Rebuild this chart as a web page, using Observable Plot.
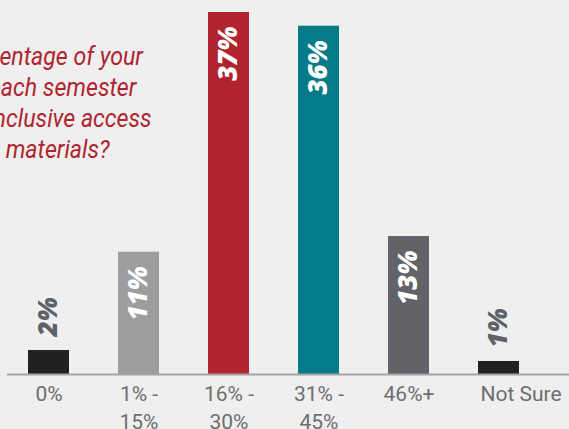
<!DOCTYPE html>
<html><head><meta charset="utf-8">
<script src="https://cdn.jsdelivr.net/npm/d3@7"></script>
<script src="https://cdn.jsdelivr.net/npm/@observablehq/plot@0.6"></script>
<style>
html,body{margin:0;padding:0;background:#eeefee;overflow:hidden;}
#wrap{position:relative;width:569px;height:429px;overflow:hidden;background:#eeefee;}
#wrap svg{position:absolute;left:0;top:0;}
.t{position:absolute;white-space:nowrap;font-family:Roboto;font-style:italic;font-size:26px;color:#b0242f;line-height:31px;transform:scaleX(0.89);transform-origin:right center;}
</style></head><body><div id="wrap"></div>
<script>
const categories = ["0%", "1% - 15%", "16% - 30%", "31% - 45%", "46%+", "Not Sure"];
const heights = [2.45, 12.5, 37, 35.6, 14.1, 1.33];
const labels = ["2%", "11%", "37%", "36%", "13%", "1%"];
const colors = ["#202221", "#9d9d9f", "#b0242f", "#057b87", "#616368", "#202221"];
const titleLines = ["What percentage of your", "textbook costs each semester", "go toward inclusive access", "course materials?"];
const titleRightEdges = [143, 136, 152, 110];
const titleBaselines = [64, 95, 126, 157];

const data = categories.map((c, i) => ({cat: c, h: heights[i], label: labels[i]}));
const inside = data.filter(d => d.h > 5);
const outside = data.filter(d => d.h <= 5);

const W = 569, H = 429;
const textBase = {fontFamily: "Open Sans", fontWeight: 800, fontStyle: "italic", fontSize: 26, rotate: -90, lineAnchor: "middle"};
const axisBase = {tickSize: 0, tickPadding: 7, fontSize: 21, fontFamily: "Roboto", color: "#6d6e71", lineHeight: 1.33, label: null,
  tickFormat: d => d.replace(" - ", " -\n")};

const chart = Plot.plot({
  width: W, height: H,
  marginLeft: 26, marginRight: 49, marginTop: 12, marginBottom: 55,
  style: {background: "transparent", fontFamily: "Roboto", overflow: "visible"},
  x: {domain: categories, paddingInner: 0.547, paddingOuter: 0, axis: null},
  y: {domain: [0, 37], axis: null},
  color: {domain: categories, range: colors},
  marks: [
    Plot.barY(data, {x: "cat", y: "h", fill: "cat"}),
    Plot.ruleY([0], {stroke: "#a4a4a4", strokeWidth: 2, insetLeft: -19, insetRight: -49}),
    Plot.text(inside, {...textBase, x: "cat", y: "h", text: "label", textAnchor: "end", dy: 14, fill: "white"}),
    Plot.text(outside, {...textBase, x: "cat", y: "h", text: "label", textAnchor: "start", dy: -14, fill: "#5f6166"}),
    Plot.axisX({...axisBase, ticks: categories.slice(0, 5)}),
    Plot.axisX({...axisBase, ticks: categories.slice(5), dx: 22})
  ]
});
const wrap = document.getElementById("wrap");
wrap.appendChild(chart);
titleLines.forEach((s, i) => {
  const d = document.createElement("div");
  d.className = "t";
  d.textContent = s;
  d.style.right = (W - titleRightEdges[i]) + "px";
  d.style.top = (titleBaselines[i] - 23) + "px";
  wrap.appendChild(d);
});
</script></body></html>
